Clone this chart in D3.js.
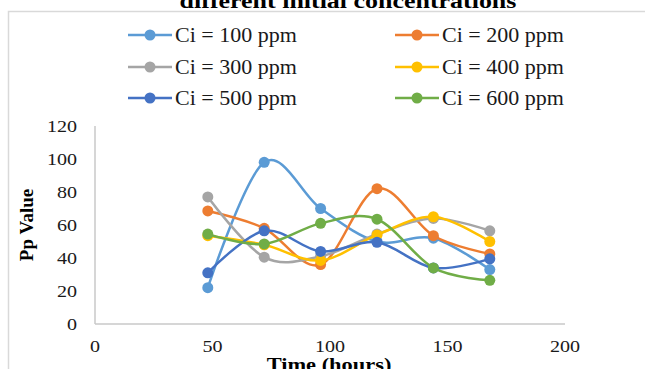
<!DOCTYPE html>
<html>
<head>
<meta charset="utf-8">
<script src="https://cdn.jsdelivr.net/npm/d3@7"></script>
<style>
  html, body { margin: 0; padding: 0; background: #fff; }
  svg { display: block; font-family: "Liberation Serif", "Times New Roman", serif; }
</style>
</head>
<body>
<svg id="chart" width="645" height="369"></svg>
<script>
// ---- data ----
const times = [48, 72, 96, 120, 144, 168];
const seriesNames = ["Ci = 100 ppm", "Ci = 200 ppm", "Ci = 300 ppm", "Ci = 400 ppm", "Ci = 500 ppm", "Ci = 600 ppm"];
const ci100 = [22, 98, 70, 50, 52, 33];
const ci200 = [68.5, 58, 36, 82, 53.5, 42.5];
const ci300 = [77, 40.5, 41, 54.5, 64, 56.5];
const ci400 = [53.5, 48, 38.5, 54, 65, 50];
const ci500 = [31, 56.5, 44, 49.5, 34, 39.5];
const ci600 = [54.5, 48.5, 61, 63.5, 34, 26.5];
const xTicks = [0, 50, 100, 150, 200];
const yTicks = [0, 20, 40, 60, 80, 100, 120];
const colors = ["#5B9BD5", "#ED7D31", "#A5A5A5", "#FFC000", "#4472C4", "#70AD47"];
const titleText = "different initial concentrations";
const xTitle = "Time (hours)";
const yTitle = "Pp Value";

const allSeries = [ci100, ci200, ci300, ci400, ci500, ci600].map((vals, i) => ({
  name: seriesNames[i], color: colors[i],
  points: vals.map((v, j) => ({ t: times[j], v }))
}));

const svg = d3.select("#chart");
const x = d3.scaleLinear().domain([0, 200]).range([95, 565]);
const y = d3.scaleLinear().domain([0, 120]).range([324, 126]);
const SX = 1.18; // horizontal stretch of the reference text

// chart border
svg.append("rect").attr("x", 8.5).attr("y", 11.5).attr("width", 700).attr("height", 400)
  .attr("fill", "none").attr("stroke", "#d9d9d9").attr("stroke-width", 1.5);

// title (cut off at top)
svg.append("text").attr("transform", `translate(348,8) scale(${SX},1)`)
  .attr("text-anchor", "middle").attr("font-weight", "bold").attr("font-size", 22)
  .attr("fill", "#000").text(titleText);

// axes lines
svg.append("line").attr("x1", x(0)).attr("x2", x(200)).attr("y1", y(0)).attr("y2", y(0))
  .attr("stroke", "#c8c8c8").attr("stroke-width", 1.5);
svg.append("line").attr("x1", x(0)).attr("x2", x(0)).attr("y1", y(0)).attr("y2", y(120))
  .attr("stroke", "#c8c8c8").attr("stroke-width", 1.5);

// tick labels
svg.append("g").selectAll("text").data(yTicks).join("text")
  .attr("transform", d => `translate(77,${y(d) + 6}) scale(${SX},1)`)
  .attr("text-anchor", "end").attr("font-size", 17).attr("fill", "#1a1a1a").text(d => d);
svg.append("g").selectAll("text").data(xTicks).join("text")
  .attr("transform", d => `translate(${x(d)},${352}) scale(${SX},1)`)
  .attr("text-anchor", "middle").attr("font-size", 17).attr("fill", "#1a1a1a").text(d => d);

// axis titles
svg.append("text").attr("transform", `translate(33,225) rotate(-90)`)
  .attr("text-anchor", "middle").attr("font-weight", "bold").attr("font-size", 19)
  .attr("fill", "#000").text(yTitle);
svg.append("text").attr("transform", `translate(329,371) scale(${SX},1)`)
  .attr("text-anchor", "middle").attr("font-weight", "bold").attr("font-size", 19)
  .attr("fill", "#000").text(xTitle);

// lines
const line = d3.line().x(d => x(d.t)).y(d => y(d.v)).curve(d3.curveCardinal.tension(0));
const g = svg.append("g");
allSeries.forEach(s => {
  g.append("path").attr("d", line(s.points)).attr("fill", "none")
    .attr("stroke", s.color).attr("stroke-width", 2.5).attr("stroke-linejoin", "round");
  g.selectAll(null).data(s.points).join("circle")
    .attr("cx", d => x(d.t)).attr("cy", d => y(d.v)).attr("r", 5.5).attr("fill", s.color);
});

// legend
const legX = [128, 395], legY = [35, 67, 98];
allSeries.forEach((s, i) => {
  const lx = legX[i % 2], ly = legY[Math.floor(i / 2)];
  const lg = svg.append("g");
  lg.append("line").attr("x1", lx).attr("x2", lx + 44).attr("y1", ly).attr("y2", ly)
    .attr("stroke", s.color).attr("stroke-width", 2.5);
  lg.append("circle").attr("cx", lx + 22).attr("cy", ly).attr("r", 5.5).attr("fill", s.color);
  lg.append("text").attr("transform", `translate(${lx + 47},${ly + 7}) scale(1.1,1)`)
    .attr("font-size", 20).attr("fill", "#1a1a1a").text(s.name);
});
</script>
</body>
</html>
